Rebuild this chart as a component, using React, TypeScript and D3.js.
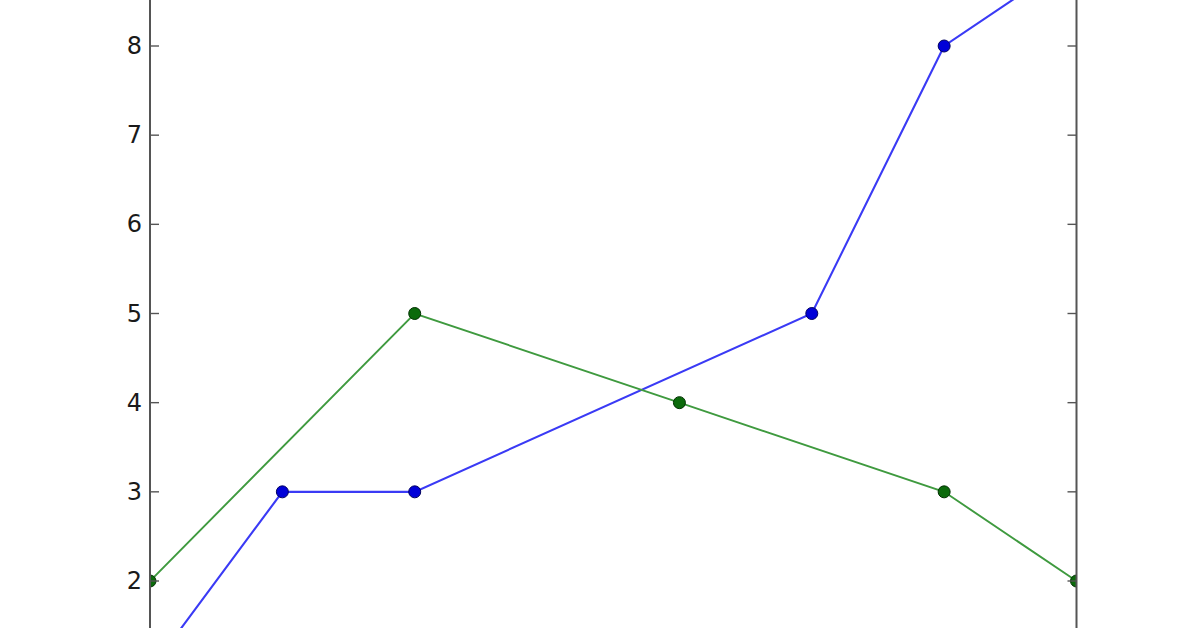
import React from "react";
import * as d3 from "d3";

const blueX = [0, 1, 2, 5, 6, 7];
const blueY = [1, 3, 3, 5, 8, 9];
const greenX = [0, 2, 4, 6, 7];
const greenY = [2, 5, 4, 3, 2];
const yTicks = [1, 2, 3, 4, 5, 6, 7, 8, 9];

const W = 1196;
const H = 628;

export default function App() {
  const x = d3.scaleLinear().domain([0, 7]).range([150, 1076.5]);
  const y = d3.scaleLinear().domain([2, 8]).range([581, 46]);
  const line = d3
    .line<[number, number]>()
    .x((d) => x(d[0]))
    .y((d) => y(d[1]));
  const blue: [number, number][] = blueX.map((v, i) => [v, blueY[i]]);
  const green: [number, number][] = greenX.map((v, i) => [v, greenY[i]]);
  const left = x(0);
  const right = x(7);
  const visibleTicks = yTicks.filter((t) => y(t) >= 0 && y(t) <= H);
  return (
    <svg
      width={W}
      height={H}
      style={{ position: "absolute", left: 0, top: 0, background: "#fff" }}
    >
      <defs>
        <clipPath id="plotClip">
          <rect x={left} y={-100} width={right - left} height={H + 200} />
        </clipPath>
      </defs>
      <g clipPath="url(#plotClip)">
        <path d={line(blue) || ""} fill="none" stroke="#3a3af5" strokeWidth={2.1} />
        <path d={line(green) || ""} fill="none" stroke="#3f9a3f" strokeWidth={1.9} />
        {blue.map((d, i) => (
          <circle key={"b" + i} cx={x(d[0])} cy={y(d[1])} r={6} fill="#0000d8" stroke="#000060" strokeWidth={1} />
        ))}
        {green.map((d, i) => (
          <circle key={"g" + i} cx={x(d[0])} cy={y(d[1])} r={6} fill="#0b6a0b" stroke="#003000" strokeWidth={1} />
        ))}
      </g>
      {visibleTicks.map((t) => (
        <g key={"t" + t}>
          <line x1={left} x2={left + 9} y1={y(t)} y2={y(t)} stroke="#555" strokeWidth={1.4} />
          <line x1={right - 9} x2={right} y1={y(t)} y2={y(t)} stroke="#555" strokeWidth={1.4} />
          <text
            x={left - 8}
            y={y(t)}
            textAnchor="end"
            dominantBaseline="central"
            fontFamily="DejaVu Sans"
            fontSize={24}
            fill="#1a1a1a"
          >
            {t}
          </text>
        </g>
      ))}
      <line x1={left} x2={left} y1={0} y2={H} stroke="#555" strokeWidth={2} />
      <line x1={right} x2={right} y1={0} y2={H} stroke="#555" strokeWidth={2} />
    </svg>
  );
}
